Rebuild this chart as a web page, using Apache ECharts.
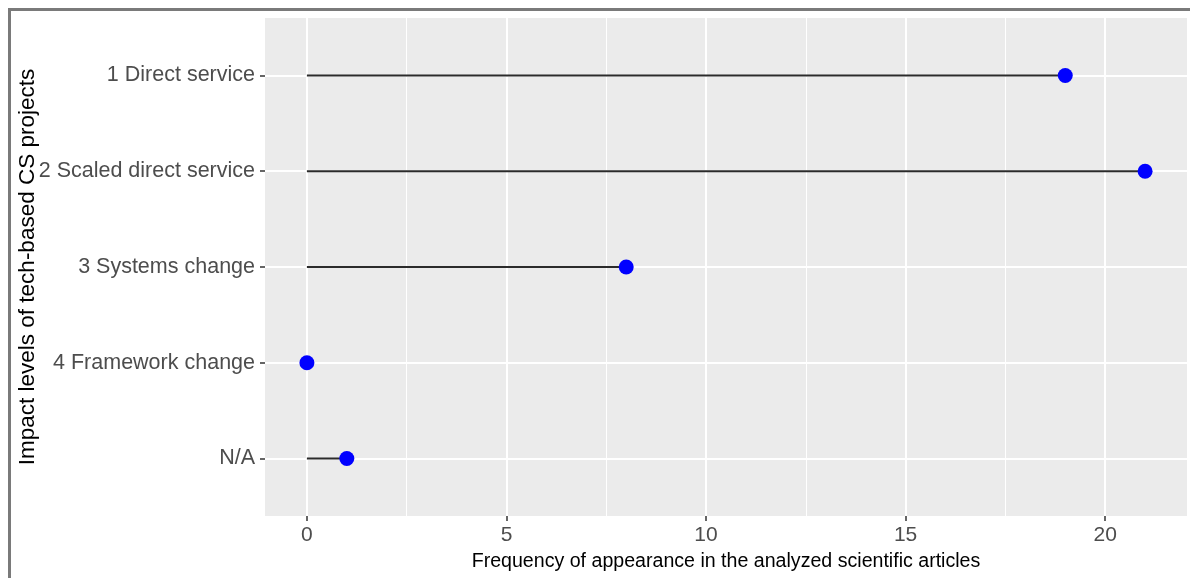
<!DOCTYPE html>
<html>
<head>
<meta charset="utf-8">
<script src="https://cdn.jsdelivr.net/npm/echarts@6/dist/echarts.min.js"></script>
<style>
html,body{margin:0;padding:0;background:#fff;}
#chart{width:1190px;height:578px;}
</style>
</head>
<body>
<div id="chart"></div>
<script>
const categories = ['1 Direct service', '2 Scaled direct service', '3 Systems change', '4 Framework change', 'N/A'];
const frequencies = [19, 21, 8, 0, 1];
const xTicks = [0, 5, 10, 15, 20];
const xMinorBreaks = [2.5, 7.5, 12.5, 17.5];
const yPositions = [1, 2, 3, 4, 5];

const points = categories.map((c, i) => [frequencies[i], yPositions[i]]);
const FONT = "'Liberation Sans', Arial, sans-serif";

const chart = echarts.init(document.getElementById('chart'), null, {renderer: 'canvas'});
chart.setOption({
  animation: false,
  backgroundColor: '#ffffff',
  grid: {
    left: 265, top: 18, right: 3, bottom: 62,
    containLabel: false, outerBoundsMode: 'none',
    show: true, backgroundColor: '#EBEBEB', borderWidth: 0
  },
  graphic: [{
    type: 'rect', left: 7, top: 7, z: 100,
    shape: {x: 0, y: 0, width: 1200, height: 600},
    style: {fill: 'none', stroke: '#7a7a7a', lineWidth: 3}
  }],
  xAxis: {
    type: 'value', min: -1.05, max: 22.05,
    name: 'Frequency of appearance in the analyzed scientific articles',
    nameLocation: 'middle', nameGap: 36, nameMoveOverlap: false,
    nameTextStyle: {fontFamily: FONT, fontSize: 19.6, color: '#000'},
    axisLine: {show: false, onZero: false},
    axisTick: {show: true, length: 5, customValues: xTicks, lineStyle: {color: '#333', width: 1.5}},
    axisLabel: {customValues: xTicks, margin: 9, fontFamily: FONT, fontSize: 21, color: '#4D4D4D'},
    splitLine: {show: true, lineStyle: {color: '#ffffff', width: 2}}
  },
  yAxis: {
    type: 'value', min: 0.4, max: 5.6, inverse: true,
    name: 'Impact levels of tech-based CS projects',
    nameLocation: 'middle', nameGap: 226, nameRotate: 90, nameMoveOverlap: false,
    nameTextStyle: {fontFamily: FONT, fontSize: 22.5, color: '#000'},
    axisLine: {show: false, onZero: false},
    axisTick: {show: true, length: 5, customValues: yPositions, lineStyle: {color: '#333', width: 1.5}},
    axisLabel: {
      customValues: yPositions, margin: 10, fontFamily: FONT, fontSize: 21.5, color: '#4D4D4D',
      padding: [4, 0, 0, 0],
      formatter: v => categories[Math.round(v) - 1]
    },
    splitLine: {show: true, lineStyle: {color: '#ffffff', width: 2}}
  },
  series: [
    {
      type: 'line', data: [], z: 1, silent: true,
      markLine: {
        silent: true, symbol: 'none', label: {show: false},
        lineStyle: {color: '#ffffff', width: 1, type: 'solid'},
        data: xMinorBreaks.map(v => ({xAxis: v}))
      }
    },
    {
      type: 'custom', z: 10, silent: true,
      data: points,
      renderItem: (params, api) => {
        const p0 = api.coord([0, api.value(1)]);
        const p1 = api.coord([api.value(0), api.value(1)]);
        return {
          type: 'line',
          shape: {x1: p0[0], y1: p0[1], x2: p1[0], y2: p1[1]},
          style: {stroke: '#2b2b2b', lineWidth: 2, lineCap: 'butt'}
        };
      }
    },
    {
      type: 'scatter', z: 11,
      data: points,
      symbol: 'circle', symbolSize: 15,
      itemStyle: {color: '#0000FF', opacity: 1}
    }
  ]
});
</script>
</body>
</html>
